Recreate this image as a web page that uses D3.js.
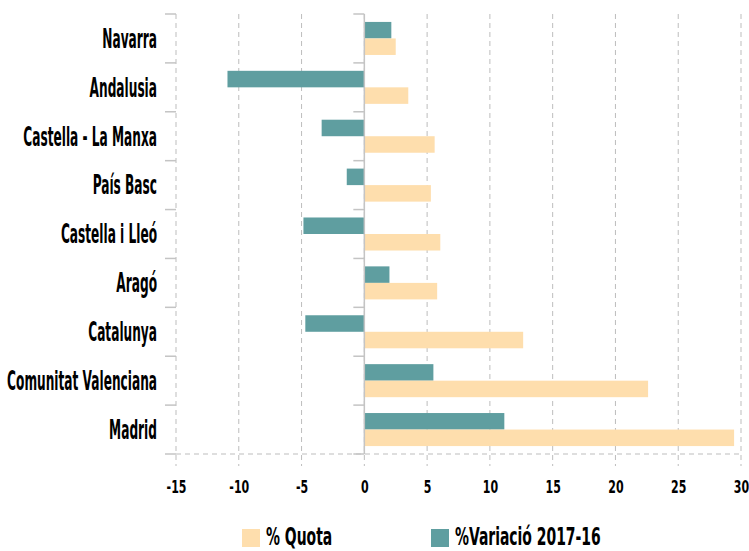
<!DOCTYPE html>
<html>
<head>
<meta charset="utf-8">
<script src="https://cdn.jsdelivr.net/npm/d3@7"></script>
<style>
  body { margin: 0; background: #fff; }
  svg text { font-family: "DejaVu Sans Condensed", "Liberation Sans Narrow", sans-serif; font-weight: bold; fill: #000; }
</style>
</head>
<body>
<div id="chart"></div>
<script>
// categories top to bottom
var regions = ["Navarra", "Andalusia", "Castella - La Manxa", "País Basc", "Castella i Lleó",
  "Aragó", "Catalunya", "Comunitat Valenciana", "Madrid"];
// % Quota
var quota = [2.5, 3.5, 5.6, 5.3, 6.05, 5.8, 12.65, 22.6, 29.45];
// %Variació 2017-16
var variacio = [2.15, -10.9, -3.4, -1.4, -4.85, 2.0, -4.7, 5.5, 11.15];
var seriesNames = ["%Variació 2017-16", "% Quota"];
var seriesColors = ["#5f9ea0", "#fedead"];
var xTicks = [-15, -10, -5, 0, 5, 10, 15, 20, 25, 30];

var W = 749, H = 551;
var plotLeft = 176, plotRight = 741, plotTop = 14, plotBottom = 454;

var svg = d3.select("#chart").append("svg")
  .attr("width", W).attr("height", H);

var x = d3.scaleLinear().domain([-15, 30]).range([plotLeft, plotRight]);
var y0 = d3.scaleBand().domain(regions).range([plotTop, plotBottom]).padding(0);
var y1 = d3.scaleBand().domain(seriesNames).range([0, y0.bandwidth()])
  .paddingInner(0).paddingOuter(0.48);

// build rows
var rows = regions.map(function (r, i) {
  return { region: r, values: [variacio[i], quota[i]] };
});

// vertical dashed grid
svg.append("g").selectAll("line").data(xTicks).enter().append("line")
  .attr("x1", function (d) { return x(d); })
  .attr("x2", function (d) { return x(d); })
  .attr("y1", plotTop).attr("y2", plotBottom + 12)
  .attr("stroke", "#bdbdbd").attr("stroke-width", 1)
  .attr("stroke-dasharray", "5,4");

// bottom dashed line
svg.append("line")
  .attr("x1", plotLeft).attr("x2", plotRight)
  .attr("y1", plotBottom).attr("y2", plotBottom)
  .attr("stroke", "#bdbdbd").attr("stroke-dasharray", "5,4");

// bars
var groups = svg.append("g").selectAll("g").data(rows).enter().append("g")
  .attr("transform", function (d) { return "translate(0," + y0(d.region) + ")"; });

groups.selectAll("rect").data(function (d) {
  return d.values.map(function (v, j) { return { key: seriesNames[j], value: v, j: j }; });
}).enter().append("rect")
  .attr("x", function (d) { return x(Math.min(0, d.value)); })
  .attr("width", function (d) { return Math.abs(x(d.value) - x(0)); })
  .attr("y", function (d) { return y1(d.key); })
  .attr("height", y1.bandwidth())
  .attr("fill", function (d) { return seriesColors[d.j]; });

// zero axis line with band boundary ticks
var bounds = regions.map(function (r) { return y0(r); }).concat([plotBottom]);
svg.append("line")
  .attr("x1", x(0)).attr("x2", x(0)).attr("y1", plotTop).attr("y2", plotBottom)
  .attr("stroke", "#c4c4c4").attr("stroke-width", 1.5);
[x(0), plotLeft].forEach(function (px) {
  svg.append("g").selectAll("line").data(bounds).enter().append("line")
    .attr("x1", px - 11).attr("x2", px)
    .attr("y1", function (d) { return d; }).attr("y2", function (d) { return d; })
    .attr("stroke", "#c4c4c4").attr("stroke-width", 1.5);
});

// y axis labels
var yAxis = svg.append("g")
  .attr("transform", "translate(" + plotLeft + ",0)")
  .call(d3.axisLeft(y0).tickSize(0).tickPadding(19));
yAxis.select(".domain").remove();
yAxis.selectAll("text")
  .attr("x", 0).attr("dy", "0.36em")
  .attr("transform", "translate(-19,0) scale(0.52,1)")
  .style("font-size", "26px");

// x axis labels
var xAxis = svg.append("g")
  .attr("transform", "translate(0," + plotBottom + ")")
  .call(d3.axisBottom(x).tickValues(xTicks).tickSize(0)
    .tickFormat(function (d) { return String(d); }));
xAxis.select(".domain").remove();
xAxis.selectAll("text")
  .attr("y", 0).attr("dy", "0.71em")
  .attr("transform", "translate(0,26) scale(0.68,1)")
  .style("font-size", "18px");

// legend
var legendItems = [
  { name: "% Quota", color: seriesColors[1], x: 242 },
  { name: "%Variació 2017-16", color: seriesColors[0], x: 431 }
];
var lg = svg.append("g").selectAll("g").data(legendItems).enter().append("g")
  .attr("transform", function (d) { return "translate(" + d.x + ",529)"; });
lg.append("rect").attr("width", 18).attr("height", 18)
  .attr("fill", function (d) { return d.color; });
lg.append("text")
  .attr("transform", "translate(24,16) scale(0.62,1)")
  .style("font-size", "25px")
  .text(function (d) { return d.name; });
</script>
</body>
</html>
